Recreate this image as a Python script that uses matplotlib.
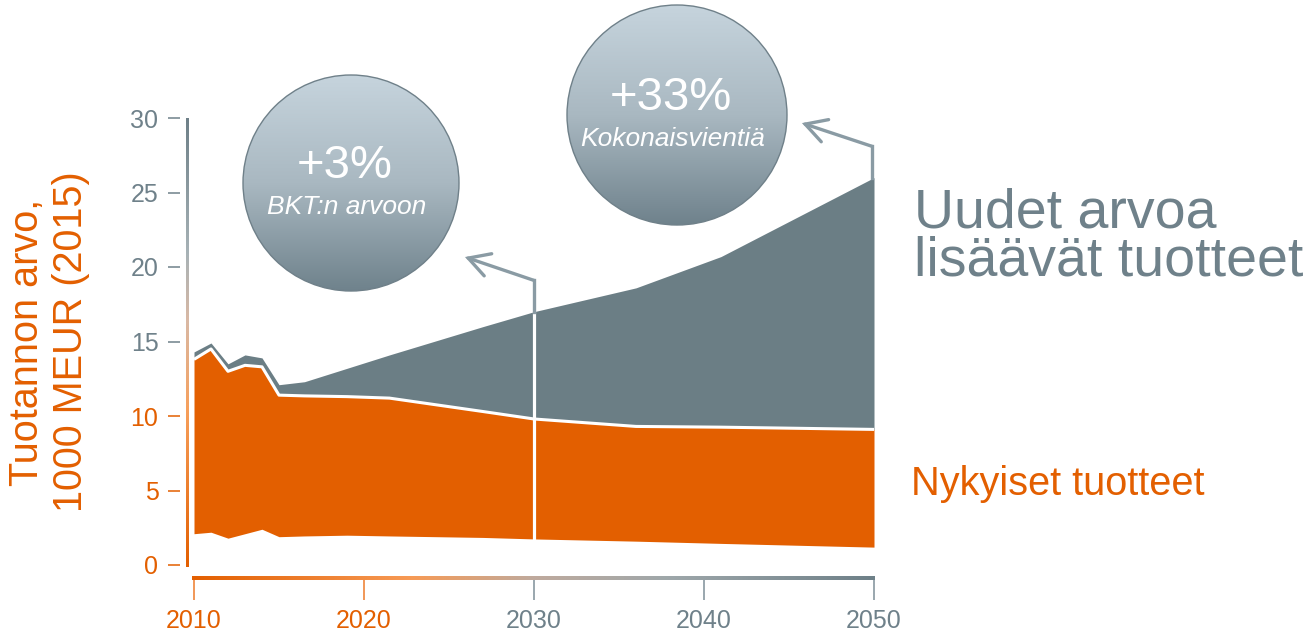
import numpy as np
import matplotlib
matplotlib.use('Agg')
import matplotlib.pyplot as plt
from matplotlib.colors import LinearSegmentedColormap
from matplotlib.patches import Circle

plt.rcParams['font.family'] = ['Liberation Sans', 'DejaVu Sans']

# data (1000 MEUR)
years = [2010, 2011, 2012, 2013, 2014, 2015, 2016.5, 2019, 2021.5, 2027, 2030, 2036, 2041, 2050]
lower = [2.1, 2.2, 1.8, 2.1, 2.4, 1.9, 1.95, 2.0, 1.95, 1.85, 1.75, 1.6, 1.45, 1.2]
current_top = [13.8, 14.5, 13.0, 13.4, 13.3, 11.4, 11.35, 11.3, 11.2, 10.3, 9.8, 9.3, 9.25, 9.1]
total_top = [14.3, 14.9, 13.5, 14.1, 13.9, 12.1, 12.3, 13.2, 14.1, 16.0, 17.0, 18.6, 20.7, 26.0]

y_ticks = [0, 5, 10, 15, 20, 25, 30]
x_ticks = [2010, 2020, 2030, 2040, 2050]
marker_years = [2030, 2050]
bubble_big = ['+3%', '+33%']
bubble_small = ['BKT:n arvoon', 'Kokonaisvientiä']

ORANGE = '#e35f00'
GREY = '#6b7e85'
TEXT_GREY = '#6f818a'
LINK = '#8a9ba4'

W, H = 1308, 634
fig = plt.figure(figsize=(W / 100, H / 100), dpi=100)

# main axes placed in pixel terms: 2010..2050 -> x 194..874, 0..30 -> y 565..118
x0, x1, y0, y1 = 194, 874, 565, 118
ax = fig.add_axes([x0 / W, (H - y0) / H, (x1 - x0) / W, (y0 - y1) / H])
ax.set_xlim(2010, 2050)
ax.set_ylim(0, 30)

ax.fill_between(years, lower, current_top, color=ORANGE, lw=0, zorder=2)
ax.fill_between(years, current_top, total_top, color=GREY, lw=0, zorder=2)
ax.plot(years, current_top, color='white', lw=2.2, zorder=3, solid_capstyle='butt')

# vertical markers and arrows to the bubbles
tips = [(2025.94, 20.67), (2045.76, 29.66)]
for yr, tip in zip(marker_years, tips):
    i = years.index(yr)
    if yr < years[-1]:
        ax.plot([yr, yr], [lower[i], total_top[i]], color='white', lw=2.3, zorder=4)
        xv = yr
    else:
        xv = yr - 0.12
    kink = total_top[i] + 2.1
    ax.plot([xv, xv], [total_top[i], kink], color=LINK, lw=2.4, zorder=4,
            clip_on=False, solid_capstyle='projecting')
    ax.annotate('', xy=tip, xytext=(xv, kink), annotation_clip=False,
                arrowprops=dict(arrowstyle='->, head_length=0.75, head_width=0.42',
                                mutation_scale=20, color=LINK, lw=2.4,
                                shrinkA=0, shrinkB=0, joinstyle='miter'))

for s in ax.spines.values():
    s.set_visible(False)
ax.spines['left'].set_position(('outward', 10))
ax.spines['bottom'].set_position(('outward', 9.4))
ax.set_yticks(y_ticks)
ax.set_xticks(x_ticks)
ax.tick_params(axis='y', length=8.6, width=1.1, pad=7, labelsize=18)
ax.tick_params(axis='x', length=16, width=1.1, pad=6, labelsize=18)
for t, v in zip(ax.yaxis.get_major_ticks(), y_ticks):
    c = ORANGE if v <= 10 else TEXT_GREY
    t.tick1line.set_color(c)
    t.tick1line.set_markeredgecolor(c)
    t.label1.set_color(c)
for t, v in zip(ax.xaxis.get_major_ticks(), x_ticks):
    c = '#ee7a2a' if v <= 2020 else '#7f9099'
    t.tick1line.set_color(c)
    t.tick1line.set_markeredgecolor(c)
    t.label1.set_color(ORANGE if v <= 2020 else TEXT_GREY)

# overlay in pixel coordinates for decorations
ov = fig.add_axes([0, 0, 1, 1])
ov.patch.set_alpha(0)
ov.axis('off')

yaxis_cmap = LinearSegmentedColormap.from_list(
    'ya', [(0, '#6e8088'), (0.3, '#a7b2b6'), (0.45, '#d9b9a5'),
           (0.65, '#f7a05c'), (1, ORANGE)])
xaxis_cmap = LinearSegmentedColormap.from_list(
    'xa', [(0, ORANGE), (0.32, '#f79a55'), (0.5, '#bfaa9d'),
           (0.7, '#9ea7aa'), (1, '#6e8088')])
ramp = np.linspace(0, 1, 256)
ov.imshow(ramp.reshape(-1, 1), cmap=yaxis_cmap, extent=(185.5, 188.5, 567, 118),
          aspect='auto', origin='upper', interpolation='bilinear')
ov.imshow(ramp.reshape(1, -1), cmap=xaxis_cmap, extent=(192, 875, 580, 576),
          aspect='auto', origin='upper', interpolation='bilinear')

# bubbles
grad = np.linspace(0, 1, 256).reshape(-1, 1)
bubble_cmap = LinearSegmentedColormap.from_list('b', ['#c6d4dd', '#a9b8c1', '#6f828c'])
bubbles = [((351, 183), 108), ((677, 115), 110)]
for ((cx, cy), r), big, small in zip(bubbles, bubble_big, bubble_small):
    circ = Circle((cx, cy), r, facecolor='none', edgecolor='#6f8089', lw=1.0, zorder=3)
    ov.add_patch(circ)
    im = ov.imshow(grad, cmap=bubble_cmap, extent=(cx - r, cx + r, cy + r, cy - r),
                   aspect='auto', zorder=2, origin='upper')
    im.set_clip_path(circ)
    ov.text(cx - 6, cy - 17, big, color='white', fontsize=34, ha='center', va='center', zorder=4)
    ov.text(cx - 4, cy + 24, small, color='white', fontsize=19, style='italic',
            ha='center', va='center', zorder=4)

ov.text(914, 227, 'Uudet arvoa', color=TEXT_GREY, fontsize=40, va='baseline')
ov.text(914, 276, 'lisäävät tuotteet', color=TEXT_GREY, fontsize=40, va='baseline')
ov.text(911, 495, 'Nykyiset tuotteet', color=ORANGE, fontsize=28.6, va='baseline')
ov.text(49, 342, 'Tuotannon arvo,\n1000 MEUR (2015)', color=ORANGE, fontsize=28.5,
        rotation=90, ha='center', va='center', multialignment='center')

ov.set_xlim(0, W)
ov.set_ylim(H, 0)

fig.savefig('out.png', dpi=100)
